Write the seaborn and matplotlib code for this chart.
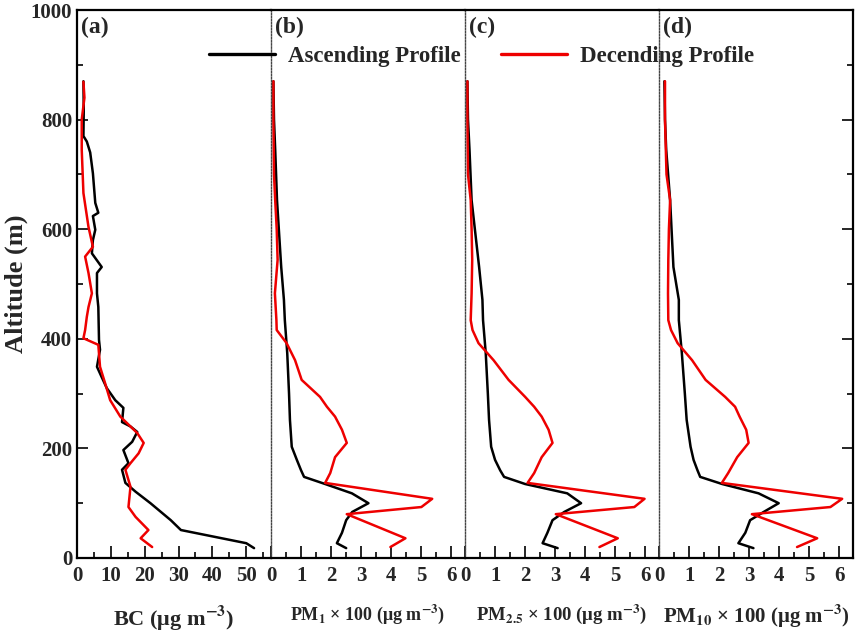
import matplotlib
matplotlib.use("Agg")
import matplotlib.pyplot as plt
from matplotlib.ticker import MultipleLocator
from matplotlib.lines import Line2D
import seaborn as sns

# BC profiles (altitude in m, BC in ug m-3)
bc_asc_alt = [870, 820, 770, 760, 740, 702, 648, 630, 624, 599, 580, 556, 531, 520, 483,
              458, 398, 380, 349, 330, 310, 288, 274, 248, 240, 230, 212, 197, 173, 161,
              137, 121, 100, 69, 51, 27, 18]
bc_asc = [1.9, 2.0, 1.9, 2.9, 3.9, 4.7, 5.4, 6.3, 4.7, 5.4, 4.7, 4.4, 7.3, 5.9, 5.9,
          6.3, 6.5, 6.8, 5.9, 7.3, 8.8, 11.3, 13.7, 13.3, 15.8, 17.8, 16.3, 13.7, 15.2, 13.3,
          14.3, 17.3, 21.7, 27.7, 30.7, 50.0, 52.3]
bc_desc_alt = [869, 840, 800, 745, 666, 604, 568, 550, 520, 483, 458, 440, 416, 401, 389,
               349, 319, 288, 258, 228, 210, 191, 173, 161, 130, 93, 75, 51, 36, 20]
bc_desc = [1.9, 2.2, 1.4, 1.4, 1.9, 3.4, 4.7, 2.4, 3.4, 4.4, 3.4, 2.9, 2.4, 1.9, 6.3,
           6.8, 8.3, 9.8, 12.8, 17.8, 19.7, 18.2, 15.8, 14.3, 15.8, 15.2, 17.3, 21.1, 18.8, 22.2]

# PM profiles (x100 ug m-3)
pm_asc_alt = [870, 800, 745, 653, 531, 471, 434, 374, 300, 252, 203, 179, 160, 148, 135,
              118, 100, 84, 69, 46, 27, 18]
pm1_asc = [0.08, 0.10, 0.14, 0.20, 0.34, 0.43, 0.46, 0.54, 0.60, 0.63, 0.69, 0.86, 1.00,
           1.10, 1.80, 2.69, 3.24, 2.70, 2.50, 2.36, 2.19, 2.50]
pm25_asc = [0.08, 0.10, 0.15, 0.22, 0.47, 0.58, 0.60, 0.69, 0.76, 0.80, 0.87, 1.00, 1.17,
            1.30, 2.00, 3.40, 3.86, 3.30, 2.91, 2.74, 2.58, 3.08]
pm10_asc = [0.18, 0.20, 0.24, 0.37, 0.48, 0.66, 0.66, 0.76, 0.86, 0.92, 1.05, 1.15, 1.28,
            1.37, 2.10, 3.31, 3.98, 3.48, 3.03, 2.87, 2.64, 3.14]

pm_desc_alt = [870, 800, 700, 653, 600, 544, 483, 434, 416, 392, 361, 325, 294, 276, 258,
               234, 210, 184, 155, 137, 108, 93, 80, 36, 20]
pm1_desc = [0.08, 0.08, 0.10, 0.14, 0.19, 0.22, 0.13, 0.18, 0.19, 0.52, 0.80, 1.02, 1.63,
            1.86, 2.13, 2.36, 2.52, 2.13, 1.97, 1.80, 5.36, 5.00, 2.52, 4.47, 3.97]
pm25_desc = [0.08, 0.08, 0.10, 0.19, 0.22, 0.24, 0.22, 0.19, 0.25, 0.45, 0.95, 1.45, 2.00,
             2.30, 2.55, 2.78, 2.91, 2.55, 2.30, 2.08, 5.97, 5.63, 3.02, 5.08, 4.47]
pm10_desc = [0.20, 0.20, 0.25, 0.37, 0.33, 0.31, 0.30, 0.31, 0.40, 0.62, 1.10, 1.55, 2.20,
             2.53, 2.68, 2.90, 2.98, 2.60, 2.30, 2.09, 6.09, 5.70, 3.09, 5.26, 4.59]

panel_tags = ["(a)", "(b)", "(c)", "(d)"]
x_labels = [
    r"BC (μg m$^{-3}$)",
    r"PM$_{1}$ × 100 (μg m$^{-3}$)",
    r"PM$_{2.5}$ × 100 (μg m$^{-3}$)",
    r"PM$_{10}$ × 100 (μg m$^{-3}$)",
]
label_sizes = [16, 13, 13.5, 15]

sns.set_theme(style="ticks")
plt.rcParams["font.family"] = ["Liberation Serif", "DejaVu Serif"]
plt.rcParams["font.weight"] = "bold"
plt.rcParams["mathtext.fontset"] = "stix"
plt.rcParams["mathtext.default"] = "bf"
plt.rcParams["xtick.direction"] = "in"
plt.rcParams["ytick.direction"] = "in"

fig = plt.figure(figsize=(8.68, 6.38), dpi=100)
gs = fig.add_gridspec(1, 4, left=0.0887, right=0.9827, bottom=0.1254, top=0.9843, wspace=0)
axes = [fig.add_subplot(gs[0, i]) for i in range(4)]

series = [
    (bc_asc_alt, bc_asc, bc_desc_alt, bc_desc),
    (pm_asc_alt, pm1_asc, pm_desc_alt, pm1_desc),
    (pm_asc_alt, pm25_asc, pm_desc_alt, pm25_desc),
    (pm_asc_alt, pm10_asc, pm_desc_alt, pm10_desc),
]

for i, ax in enumerate(axes):
    a_alt, a_val, d_alt, d_val = series[i]
    sns.lineplot(x=a_val, y=a_alt, sort=False, estimator=None, color="black",
                 linewidth=1.8, ax=ax)
    sns.lineplot(x=d_val, y=d_alt, sort=False, estimator=None, color="#ee0000",
                 linewidth=1.8, ax=ax)
    ax.set_ylim(0, 1000)
    if i == 0:
        ax.set_xlim(0, 57.3)
        ax.xaxis.set_major_locator(MultipleLocator(10))
        ax.xaxis.set_minor_locator(MultipleLocator(5))
    else:
        ax.set_xlim(0, 6.45)
        ax.xaxis.set_major_locator(MultipleLocator(1))
        ax.xaxis.set_minor_locator(MultipleLocator(0.5))
    ax.yaxis.set_major_locator(MultipleLocator(200))
    ax.yaxis.set_minor_locator(MultipleLocator(100))

    for side in ["top", "bottom", "left", "right"]:
        ax.spines[side].set_linewidth(1.6)
        ax.spines[side].set_color("black")
    if i > 0:
        ax.spines["left"].set_linestyle((0, (1, 1.2)))
        ax.spines["left"].set_linewidth(1.0)
        ax.spines["left"].set_color("#444444")
    if i < 3:
        ax.spines["right"].set_visible(False)

    ax.tick_params(axis="x", which="major", length=9, width=1.4, labelsize=15, pad=6)
    ax.tick_params(axis="x", which="minor", length=4.5, width=1.4)
    ax.tick_params(axis="y", which="major", length=8, width=1.4, labelsize=15)
    ax.tick_params(axis="y", which="minor", length=4, width=1.4)
    if i == 0:
        ax.set_ylabel("Altitude (m)", fontsize=19, fontweight="bold", labelpad=2)
    else:
        ax.tick_params(axis="y", which="both", left=False, labelleft=False)
        ax.set_ylabel("")
    if i == 3:
        ax.tick_params(axis="y", which="both", right=True, labelright=False)

    ax.set_xlabel(x_labels[i], fontsize=label_sizes[i], fontweight="bold", labelpad=12)
    ax.text(0.02, 0.988, panel_tags[i], transform=ax.transAxes, ha="left", va="top",
            fontsize=17, fontweight="bold")

handles = [
    Line2D([], [], color="black", linewidth=2.4),
    Line2D([], [], color="#ee0000", linewidth=2.4),
]
fig.legend(handles, ["Ascending Profile", "Decending Profile"], ncol=2,
           loc="center", bbox_to_anchor=(0.5547, 0.912), frameon=False,
           prop={"size": 16.5, "weight": "bold"}, handlelength=2.9,
           handletextpad=0.55, columnspacing=1.75)

fig.savefig("out.png", dpi=100)
